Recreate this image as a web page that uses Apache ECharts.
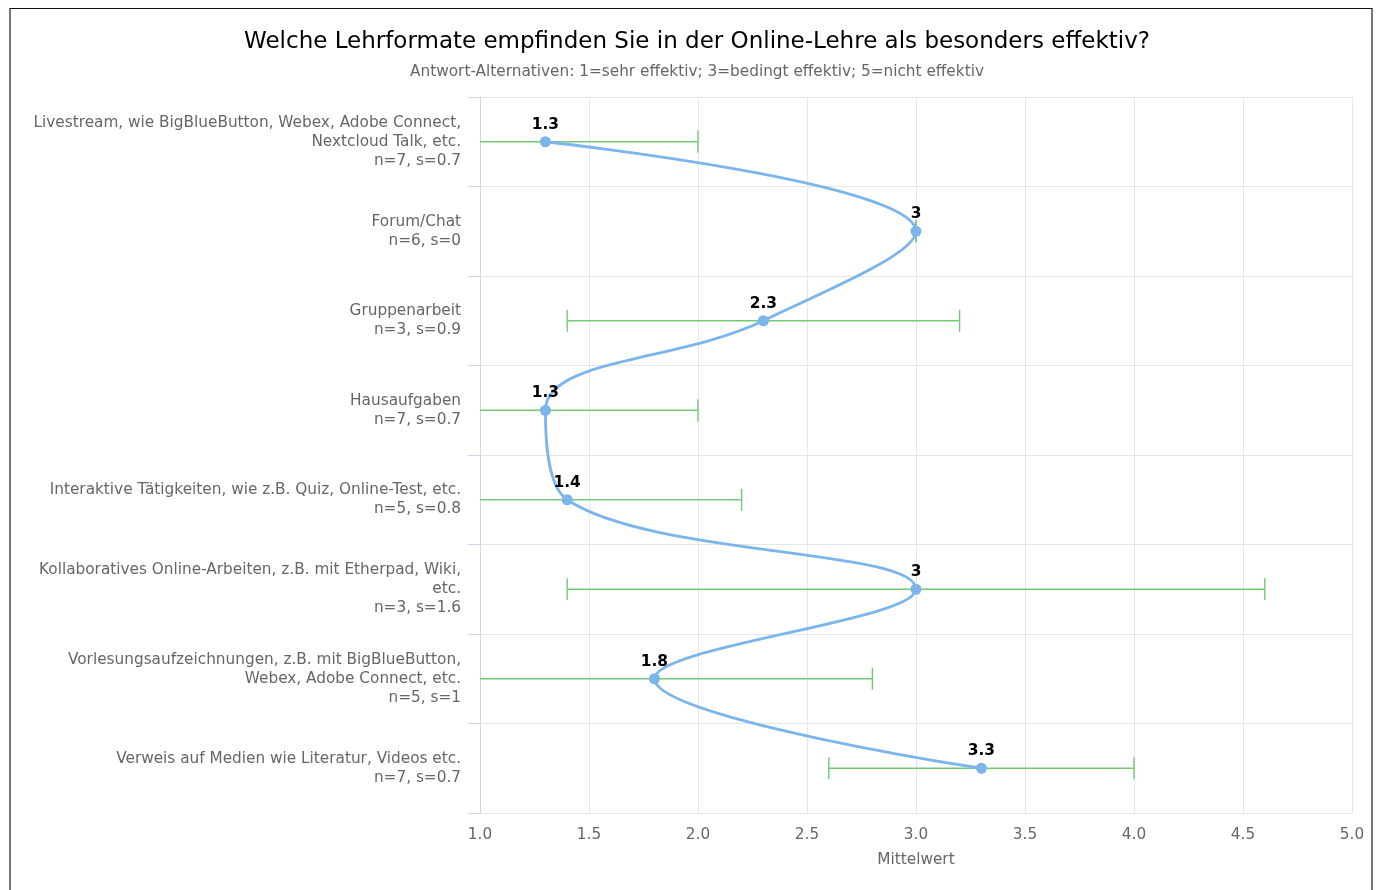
<!DOCTYPE html>
<html>
<head>
<meta charset="utf-8">
<script src="https://cdn.jsdelivr.net/npm/echarts@6/dist/echarts.min.js"></script>
<style>
  html, body { margin: 0; padding: 0; background: #fff; }
  #frame { position: absolute; left: 9px; top: 8px; width: 1364px; height: 900px;
           border-left: 2px solid #777; border-right: 2px solid #777; border-top: 1px solid #111; box-sizing: border-box; }
  #chart { position: absolute; left: 0; top: 0; width: 1378px; height: 890px; }
</style>
</head>
<body>
<div id="frame"></div>
<div id="chart"></div>
<script>
const titleText = 'Welche Lehrformate empfinden Sie in der Online-Lehre als besonders effektiv?';
const subtitleText = 'Antwort-Alternativen: 1=sehr effektiv; 3=bedingt effektiv; 5=nicht effektiv';
const xAxisName = 'Mittelwert';
const categories = [
  'Livestream, wie BigBlueButton, Webex, Adobe Connect,\nNextcloud Talk, etc.',
  'Forum/Chat',
  'Gruppenarbeit',
  'Hausaufgaben',
  'Interaktive Tätigkeiten, wie z.B. Quiz, Online-Test, etc.',
  'Kollaboratives Online-Arbeiten, z.B. mit Etherpad, Wiki,\netc.',
  'Vorlesungsaufzeichnungen, z.B. mit BigBlueButton,\nWebex, Adobe Connect, etc.',
  'Verweis auf Medien wie Literatur, Videos etc.'
];
const nValues = [7, 6, 3, 7, 5, 3, 5, 7];
const sValues = [0.7, 0, 0.9, 0.7, 0.8, 1.6, 1, 0.7];
const means = [1.3, 3, 2.3, 1.3, 1.4, 3, 1.8, 3.3];
const xTicks = { min: 1, max: 5, interval: 0.5 };

const labelText = categories.map((c, i) => c + '\nn=' + nValues[i] + ', s=' + sValues[i]);
const errData = means.map((m, i) => [+(m - sValues[i]).toFixed(2), +(m + sValues[i]).toFixed(2), i]);

const chart = echarts.init(document.getElementById('chart'), null, { renderer: 'canvas' });
const FONT = 'DejaVu Sans';
const SMALL = 15.3;
chart.setOption({
  animation: false,
  textStyle: { fontFamily: FONT },
  title: [
    { text: titleText, left: 692, top: 26, textAlign: 'center',
      textStyle: { fontFamily: FONT, fontSize: 23, fontWeight: 'normal', color: '#000' } },
    { text: subtitleText, left: 692, top: 60, textAlign: 'center',
      textStyle: { fontFamily: FONT, fontSize: SMALL, fontWeight: 'normal', color: '#666' } }
  ],
  grid: { left: 480, right: 26, top: 97, bottom: 77, containLabel: false },
  xAxis: {
    type: 'value', min: xTicks.min, max: xTicks.max, interval: xTicks.interval,
    name: xAxisName, nameLocation: 'middle', nameGap: 40,
    nameTextStyle: { fontFamily: FONT, fontSize: SMALL, color: '#666' },
    axisLine: { show: false }, axisTick: { show: false },
    axisLabel: { fontFamily: FONT, fontSize: SMALL, color: '#666', margin: 15,
      formatter: v => v.toFixed(1) },
    splitLine: { show: true, lineStyle: { color: '#e6e6e6', width: 1 } }
  },
  yAxis: {
    type: 'category', data: labelText, inverse: true,
    axisLine: { show: true, lineStyle: { color: '#ccd6eb', width: 1 } },
    axisTick: { show: true, length: 12, lineStyle: { color: '#ccd6eb' } },
    axisLabel: { fontFamily: FONT, fontSize: SMALL, color: '#666', margin: 19, lineHeight: 19, align: 'right' },
    splitLine: { show: true, lineStyle: { color: '#e6e6e6', width: 1 } }
  },
  series: [
    {
      type: 'custom',
      clip: true,
      z: 2,
      data: errData,
      encode: { x: [0, 1], y: 2 },
      renderItem: function (params, api) {
        const lo = api.value(0), hi = api.value(1), idx = api.value(2);
        const p0 = api.coord([lo, idx]);
        const p1 = api.coord([hi, idx]);
        const h = 11;
        const style = { stroke: '#74c974', lineWidth: 1.4 };
        return {
          type: 'group',
          children: [
            { type: 'line', shape: { x1: p0[0], y1: p0[1], x2: p1[0], y2: p1[1] }, style: style },
            { type: 'line', shape: { x1: p0[0], y1: p0[1] - h, x2: p0[0], y2: p0[1] + h }, style: style },
            { type: 'line', shape: { x1: p1[0], y1: p1[1] - h, x2: p1[0], y2: p1[1] + h }, style: style }
          ]
        };
      }
    },
    {
      type: 'line',
      z: 3,
      data: means,
      smooth: 0.4,
      symbol: 'circle',
      symbolSize: 11,
      lineStyle: { color: '#7cb5ec', width: 2.8 },
      itemStyle: { color: '#7cb5ec' },
      label: { show: true, position: 'top', distance: 4, fontFamily: FONT, fontSize: 15.4,
        fontWeight: 'bold', color: '#000', formatter: p => String(p.value) }
    }
  ]
});
</script>
</body>
</html>
